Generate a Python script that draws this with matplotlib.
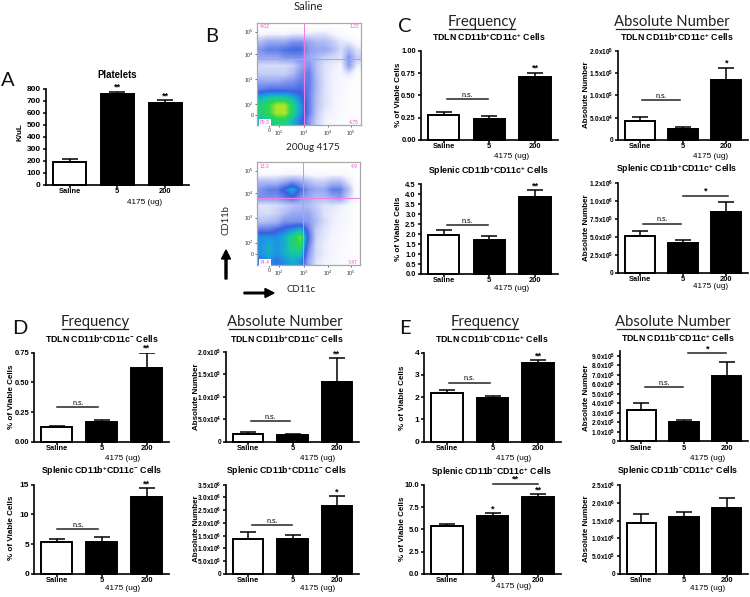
import matplotlib
matplotlib.use("Agg")
import matplotlib.pyplot as plt
from matplotlib.colors import LinearSegmentedColormap
from matplotlib.lines import Line2D
from matplotlib.patches import FancyArrow

W, H = 750, 597
SANS = "Liberation Sans"
HEAD = "Lato"
plt.rcParams.update({
    "font.family": SANS,
    "mathtext.fontset": "custom",
    "mathtext.rm": "Liberation Sans",
    "mathtext.bf": "Liberation Sans:bold",
    "mathtext.it": "Liberation Sans:italic",
})

categories = ["Saline", "5", "200"]
xlabel_text = "4175 (ug)"

# ---- values ----
a_vals = [192, 762, 684]
a_errs = [26, 16, 22]
a_ticks = [0, 100, 200, 300, 400, 500, 600, 700, 800]
a_labels = ["0", "100", "200", "300", "400", "500", "600", "700", "800"]

c1_vals = [0.28, 0.24, 0.70]
c1_errs = [0.03, 0.025, 0.05]
c1_ticks = [0, 0.25, 0.5, 0.75, 1.0]
c1_labels = ["0.00", "0.25", "0.50", "0.75", "1.00"]

c2_vals = [4.2e4, 2.4e4, 1.34e5]
c2_errs = [1.0e4, 0.4e4, 2.8e4]
c2_ticks = [0, 5e4, 1e5, 1.5e5, 2e5]
c2_labels = ["0", "5.0x10$^{\\mathbf{4}}$", "1.0x10$^{\\mathbf{5}}$", "1.5x10$^{\\mathbf{5}}$", "2.0x10$^{\\mathbf{5}}$"]

c3_vals = [1.97, 1.73, 3.85]
c3_errs = [0.23, 0.17, 0.35]
c3_ticks = [0, 0.5, 1, 1.5, 2, 2.5, 3, 3.5, 4, 4.5]
c3_labels = ["0.0", "0.5", "1.0", "1.5", "2.0", "2.5", "3.0", "3.5", "4.0", "4.5"]

c4_vals = [5.1e5, 4.2e5, 8.4e5]
c4_errs = [0.7e5, 0.4e5, 1.5e5]
c4_ticks = [0, 2.5e5, 5e5, 7.5e5, 1e6, 1.25e6]
c4_labels = ["0", "2.5x10$^{\\mathbf{5}}$", "5.0x10$^{\\mathbf{5}}$", "7.5x10$^{\\mathbf{5}}$", "1.0x10$^{\\mathbf{6}}$", "1.2x10$^{\\mathbf{6}}$"]

d1_vals = [0.12, 0.163, 0.62]
d1_errs = [0.01, 0.02, 0.13]
d1_ticks = [0, 0.25, 0.5, 0.75]
d1_labels = ["0.00", "0.25", "0.50", "0.75"]

d2_vals = [1.7e4, 1.55e4, 1.33e5]
d2_errs = [0.4e4, 0.25e4, 0.52e5]
d2_ticks = [0, 5e4, 1e5, 1.5e5, 2e5]
d2_labels = ["0", "5.0x10$^{\\mathbf{4}}$", "1.0x10$^{\\mathbf{5}}$", "1.5x10$^{\\mathbf{5}}$", "2.0x10$^{\\mathbf{5}}$"]

d3_vals = [5.3, 5.43, 12.93]
d3_errs = [0.55, 0.72, 1.5]
d3_ticks = [0, 5, 10, 15]
d3_labels = ["0", "5", "10", "15"]

d4_vals = [1.38e6, 1.36e6, 2.66e6]
d4_errs = [0.25e6, 0.18e6, 0.38e6]
d4_ticks = [0, 5e5, 1e6, 1.5e6, 2e6, 2.5e6, 3e6, 3.5e6]
d4_labels = ["0", "5.0x10$^{\\mathbf{5}}$", "1.0x10$^{\\mathbf{6}}$", "1.5x10$^{\\mathbf{6}}$", "2.0x10$^{\\mathbf{6}}$", "2.5x10$^{\\mathbf{6}}$", "3.0x10$^{\\mathbf{6}}$", "3.5x10$^{\\mathbf{6}}$"]

e1_vals = [2.17, 1.95, 3.52]
e1_errs = [0.14, 0.10, 0.13]
e1_ticks = [0, 1, 2, 3, 4]
e1_labels = ["0", "1", "2", "3", "4"]

e2_vals = [3.3e5, 2.0e5, 6.9e5]
e2_errs = [0.7e5, 0.25e5, 1.45e5]
e2_ticks = [0, 1e5, 2e5, 3e5, 4e5, 5e5, 6e5, 7e5, 8e5, 9e5]
e2_labels = ["0"] + ["%d.0x10$^{\\mathbf{5}}$" % i for i in range(1, 10)]

e3_vals = [5.37, 6.45, 8.65]
e3_errs = [0.26, 0.35, 0.30]
e3_ticks = [0, 2.5, 5, 7.5, 10]
e3_labels = ["0.0", "2.5", "5.0", "7.5", "10.0"]

e4_vals = [1.43e6, 1.59e6, 1.86e6]
e4_errs = [0.25e6, 0.16e6, 0.27e6]
e4_ticks = [0, 5e5, 1e6, 1.5e6, 2e6, 2.5e6]
e4_labels = ["0", "5.0x10$^{\\mathbf{5}}$", "1.0x10$^{\\mathbf{6}}$", "1.5x10$^{\\mathbf{6}}$", "2.0x10$^{\\mathbf{6}}$", "2.5x10$^{\\mathbf{6}}$"]

# flow cytometry density (0 = none, 10 = densest), top row first
saline_density = [
    [0.0, 0.0, 0.0, 0.0, 0.0, 0.0, 0.0, 0.1, 0.1, 0.0, 0.0, 0.0, 0.0],
    [0.5, 0.6, 0.6, 0.6, 0.8, 0.8, 0.8, 1.0, 1.0, 0.6, 0.3, 0.1, 0.0],
    [2.0, 2.5, 2.5, 2.5, 3.0, 3.0, 2.5, 2.0, 2.0, 1.5, 1.0, 0.8, 0.3],
    [3.0, 3.5, 3.5, 3.8, 4.0, 4.0, 2.8, 2.5, 2.5, 2.0, 1.2, 2.0, 1.0],
    [2.5, 2.5, 2.5, 3.0, 3.0, 3.0, 2.5, 2.0, 1.5, 1.2, 1.0, 3.0, 1.5],
    [1.2, 1.2, 1.2, 1.2, 1.5, 2.5, 3.0, 1.8, 1.0, 0.8, 0.6, 2.8, 0.8],
    [1.5, 1.5, 1.5, 1.5, 2.0, 3.0, 3.5, 1.8, 1.0, 0.7, 0.6, 1.0, 0.2],
    [2.5, 2.5, 2.5, 2.8, 3.0, 3.5, 3.5, 2.0, 1.0, 0.7, 0.5, 0.3, 0.1],
    [3.5, 3.8, 3.8, 3.8, 3.8, 4.0, 3.5, 2.0, 1.0, 0.7, 0.5, 0.2, 0.1],
    [5.5, 6.0, 6.0, 6.0, 5.5, 4.5, 3.5, 1.8, 1.0, 0.7, 0.4, 0.2, 0.1],
    [6.5, 7.0, 8.0, 8.0, 6.5, 5.0, 3.5, 1.8, 1.0, 0.7, 0.4, 0.2, 0.1],
    [6.5, 7.0, 8.0, 8.0, 6.5, 5.0, 3.5, 1.6, 0.8, 0.6, 0.3, 0.2, 0.1],
    [5.5, 6.0, 6.5, 6.5, 5.5, 4.5, 3.0, 1.4, 0.7, 0.5, 0.3, 0.2, 0.1],
]
treated_density = [
    [0.0, 0.0, 0.0, 0.0, 0.0, 0.0, 0.0, 0.0, 0.0, 0.0, 0.0, 0.0, 0.0],
    [0.3, 0.3, 0.4, 0.5, 0.6, 0.6, 0.4, 0.3, 0.3, 0.4, 0.4, 0.2, 0.0],
    [2.0, 2.0, 2.0, 2.5, 3.0, 2.5, 2.0, 1.5, 1.5, 2.0, 2.0, 1.0, 0.2],
    [3.0, 3.5, 3.5, 4.5, 5.5, 4.0, 3.0, 2.5, 2.5, 3.5, 3.5, 2.0, 0.3],
    [3.0, 3.0, 3.0, 3.5, 4.0, 3.0, 2.5, 2.0, 2.0, 2.5, 2.8, 1.5, 0.2],
    [1.0, 1.0, 1.2, 1.5, 1.8, 2.0, 2.0, 1.5, 1.0, 1.0, 0.8, 0.5, 0.1],
    [1.2, 1.2, 1.5, 2.0, 2.5, 2.5, 2.5, 1.8, 1.0, 0.8, 0.6, 0.4, 0.1],
    [1.8, 2.0, 2.2, 3.0, 3.0, 3.0, 2.8, 2.0, 1.2, 0.8, 0.6, 0.4, 0.1],
    [3.5, 3.5, 4.0, 4.5, 5.0, 5.5, 3.5, 1.5, 1.0, 0.7, 0.5, 0.3, 0.1],
    [5.0, 5.0, 5.0, 5.5, 6.5, 7.5, 4.0, 1.4, 0.9, 0.6, 0.4, 0.2, 0.1],
    [5.0, 5.5, 5.0, 5.5, 6.5, 7.0, 3.5, 1.2, 0.8, 0.6, 0.4, 0.2, 0.1],
    [5.0, 5.5, 5.0, 5.5, 6.0, 6.0, 3.0, 1.2, 0.8, 0.6, 0.3, 0.2, 0.1],
    [4.5, 5.0, 4.5, 5.0, 5.5, 5.0, 2.5, 1.0, 0.7, 0.5, 0.3, 0.2, 0.1],
]
flow_tick_labels = ["0", "10$^{2}$", "10$^{3}$", "10$^{4}$", "10$^{5}$"]
saline_pcts = ["4.02", "1.22", "4.75", "89.3"]
treated_pcts = ["13.3", "4.9", "7.47", "74.4"]

fig = plt.figure(figsize=(W / 100, H / 100), dpi=100)
fig.patch.set_facecolor("white")


def ftext(x, y, s, **kw):
    kw.setdefault("ha", "center")
    kw.setdefault("va", "center")
    return fig.text(x / W, 1 - y / H, s, **kw)


def add_px_axes(l, r, t, b):
    return fig.add_axes([l / W, 1 - b / H, (r - l) / W, (b - t) / H])


def bar_panel(box, vals, errs, ticks, labels, ymax, title, title_xy, ylabel, ylabel_xy, xlabel_xy,
              stars=("", "", ""), brackets=(), tl_size=5.4, title_size=6.35):
    l, r, t, b = box
    ax = add_px_axes(l, r, t, b)
    ax.set_xlim(-0.5, 2.5)
    ax.set_ylim(0, ymax)
    ax.patch.set_alpha(0)
    x = range(3)
    ax.bar(x, vals, width=0.69, color=["white", "black", "black"], edgecolor="black",
           linewidth=1.4, yerr=[[0, 0, 0], errs], capsize=6,
           error_kw=dict(ecolor="black", elinewidth=1.1, capthick=1.1), clip_on=False)
    for s in ("top", "right"):
        ax.spines[s].set_visible(False)
    for s in ("left", "bottom"):
        ax.spines[s].set_linewidth(1.2)
    ax.set_xticks(list(x))
    ax.set_xticklabels(categories, fontsize=5.4, fontweight="bold")
    ax.set_yticks(ticks)
    ax.set_yticklabels(labels, fontsize=tl_size, fontweight="bold")
    ax.tick_params(axis="y", length=2.5, width=1.1, pad=1)
    ax.tick_params(axis="x", length=2, width=1.1, pad=0.5)
    for i, st in enumerate(stars):
        if st:
            ax.annotate(st, (i, vals[i] + errs[i]), xytext=(0, 0), textcoords="offset points",
                        ha="center", va="bottom", fontsize=6.5, fontweight="bold", annotation_clip=False)
    for lab, x0, x1, yv in brackets:
        ax.add_line(Line2D([x0, x1], [yv, yv], color="#222222", lw=1.1, clip_on=False))
        ax.annotate(lab, ((x0 + x1) / 2, yv), xytext=(0, 0.2), textcoords="offset points",
                    ha="center", va="bottom", fontsize=5.2 if lab == "n.s." else 6.5,
                    annotation_clip=False, fontweight="normal" if lab == "n.s." else "bold")
    ftext(title_xy[0], title_xy[1], title, fontsize=title_size, fontweight="bold")
    ftext(ylabel_xy[0], ylabel_xy[1], ylabel, fontsize=5.8, fontweight="bold", rotation=90)
    ftext(xlabel_xy[0], xlabel_xy[1], xlabel_text, fontsize=5.9)
    return ax


POS = "$^{\\mathbf{+}}$"
NEG = "$^{\\mathbf{-}}$"
VIA = "% of Viable Cells"
ABN = "Absolute Number"
cpp = "CD11b" + POS + "CD11c" + POS + " Cells"
cpn = "CD11b" + POS + "CD11c" + NEG + " Cells"
cnp = "CD11b" + NEG + "CD11c" + POS + " Cells"
SCI = 4.7

# A
bar_panel((45.7, 189, 89, 184.7), a_vals, a_errs, a_ticks, a_labels, 800, "Platelets", (117, 75),
          "K/uL", (20, 132), (145, 202), stars=("", "**", "**"), tl_size=6, title_size=6.9)
# C
bar_panel((420.7, 558, 50.7, 140), c1_vals, c1_errs, c1_ticks, c1_labels, 1.0, "TDLN " + cpp, (489, 37),
          VIA, (399, 95), (512, 156), stars=("", "", "**"), brackets=[("n.s.", 0.07, 0.98, 0.46)])
bar_panel((618.3, 748, 50.7, 140), c2_vals, c2_errs, c2_ticks, c2_labels, 2e5, "TDLN " + cpp, (677, 37),
          ABN, (587, 95), (711, 156), stars=("", "", "*"), brackets=[("n.s.", 0.04, 0.93, 0.895e5)], tl_size=SCI)
bar_panel((420.7, 558, 184.3, 274), c3_vals, c3_errs, c3_ticks, c3_labels, 4.5, "Splenic " + cpp, (489, 171),
          VIA, (399, 229), (512, 288), stars=("", "", "**"), brackets=[("n.s.", 0.07, 0.98, 2.44)])
bar_panel((618.3, 748, 183, 272.7), c4_vals, c4_errs, c4_ticks, c4_labels, 1.25e6, "Splenic " + cpp, (677, 169),
          ABN, (587, 228), (711, 287),
          brackets=[("n.s.", 0.07, 0.96, 6.85e5), ("*", 0.99, 2.03, 1.07e6)], tl_size=SCI)
# D
bar_panel((34, 169, 352.7, 441.7), d1_vals, d1_errs, d1_ticks, d1_labels, 0.75, "TDLN " + cpn, (102, 339),
          VIA, (12, 397), (123, 458), stars=("", "", "**"), brackets=[("n.s.", 0.02, 0.93, 0.289)])
bar_panel((226, 359, 351.7, 441.7), d2_vals, d2_errs, d2_ticks, d2_labels, 2e5, "TDLN " + cpn, (287, 339),
          ABN, (197, 397), (318, 458), stars=("", "", "**"), brackets=[("n.s.", 0.07, 0.95, 4.5e4)], tl_size=SCI)
bar_panel((34, 169, 484.7, 574), d3_vals, d3_errs, d3_ticks, d3_labels, 15, "Splenic " + cpn, (102, 471),
          VIA, (12, 528), (123, 589), stars=("", "", "**"), brackets=[("n.s.", 0.02, 0.93, 7.55)], tl_size=6)
bar_panel((226, 359, 484.7, 574), d4_vals, d4_errs, d4_ticks, d4_labels, 3.5e6, "Splenic " + cpn, (287, 471),
          ABN, (197, 529), (318, 589), stars=("", "", "*"), brackets=[("n.s.", 0.09, 0.98, 1.92e6)], tl_size=SCI)
# E
bar_panel((424, 561, 352.7, 441.7), e1_vals, e1_errs, e1_ticks, e1_labels, 4, "TDLN " + cnp, (492, 339),
          VIA, (402, 398), (514, 458), stars=("", "", "**"), brackets=[("n.s.", 0.05, 0.95, 2.65)], tl_size=6)
bar_panel((620, 748, 351, 441.3), e2_vals, e2_errs, e2_ticks, e2_labels, 9.5e5, "TDLN " + cnp, (678, 338),
          ABN, (587, 398), (708, 458),
          brackets=[("n.s.", 0.09, 0.98, 5.7e5), ("*", 1.1, 1.99, 9.25e5)], tl_size=SCI)
bar_panel((424, 561, 484.7, 574), e3_vals, e3_errs, e3_ticks, e3_labels, 10, "Splenic " + cnp, (492, 471.7),
          VIA, (402, 529), (514, 587), stars=("", "*", "**"), brackets=[("**", 1.01, 1.99, 10.1)])
bar_panel((620, 748, 485, 574), e4_vals, e4_errs, e4_ticks, e4_labels, 2.5e6, "Splenic " + cnp, (678, 471),
          ABN, (587, 529), (708, 588), tl_size=SCI)

# section headers
for x, y, s in [(482, 22, "Frequency"), (672, 22, "Absolute Number"),
                (95, 322, "Frequency"), (285, 322, "Absolute Number"),
                (485, 322, "Frequency"), (673, 322, "Absolute Number")]:
    t = ftext(x, y, s, fontsize=10.7, family=HEAD, color="#222222")
    half = 33 if s == "Frequency" else 56
    fig.add_artist(Line2D([(x - half) / W, (x + half) / W], [1 - (y + 7) / H] * 2, color="#222222", lw=0.9))

# panel letters
for x, y, s in [(7.5, 80, "A"), (212, 37, "B"), (405, 26, "C"), (20, 329, "D"), (405, 329, "E")]:
    ftext(x, y, s, fontsize=14.5, family=HEAD, color="#111111")

# flow plots
flow_cmap = LinearSegmentedColormap.from_list("flow", [
    (0.0, "#ffffff"), (0.06, "#f4f5fe"), (0.12, "#d4daf9"), (0.25, "#98a8f2"), (0.42, "#3a60e2"),
    (0.52, "#1a9fe0"), (0.60, "#18c8a0"), (0.70, "#2bd850"), (0.82, "#c8e820"),
    (0.90, "#f0a020"), (1.0, "#e84020")])


def flow(box, density, pcts, vx, hy, yt):
    l, r, t, b = box
    ax = add_px_axes(l, r, t, b)
    ax.imshow(density, cmap=flow_cmap, vmin=0, vmax=10, aspect="auto", interpolation="bilinear",
              extent=(l, r, b, t))
    ax.set_xlim(l, r)
    ax.set_ylim(b, t)
    for s in ax.spines.values():
        s.set_color("#a8a8a8")
        s.set_linewidth(0.9)
    ax.axvline(vx, color="#f080e0", lw=0.7)
    ax.axhline(hy, color="#f080e0", lw=0.7)
    xt = [269, 279.3, 304, 328.3, 350.7]
    ax.set_xticks(xt)
    ax.set_xticklabels(flow_tick_labels, fontsize=3.8, color="#333333")
    ax.set_yticks(yt)
    ax.set_yticklabels(flow_tick_labels, fontsize=3.8, color="#333333")
    ax.tick_params(length=1.5, width=0.5, pad=1, color="#333333")
    kw = dict(fontsize=3.6, color="#ee55dd", va="center")
    ax.text(l + 3, t + 4, pcts[0], ha="left", **kw)
    ax.text(r - 2, t + 4, pcts[1], ha="right", **kw)
    ax.text(r - 2, b - 2.5, pcts[2], ha="right", **kw)
    ax.text(l + 3, b - 2.5, pcts[3], ha="left",
            bbox=dict(facecolor="white", edgecolor="none", pad=0.6), **kw)


flow((257, 361, 22.7, 125), saline_density, saline_pcts, 304.3, 59, [115, 104, 79, 54.3, 31.7])
flow((257, 360, 162, 265), treated_density, treated_pcts, 303.3, 198, [254, 242.7, 217.7, 193.3, 170.7])

ftext(308, 6, "Saline", fontsize=8, family=HEAD, color="#222222")
ftext(313, 147, "200ug 4175", fontsize=7.2, family=HEAD, color="#222222")
ftext(226, 220, "CD11b", fontsize=6.9, family=HEAD, color="#222222", rotation=90)
ftext(301, 290, "CD11c", fontsize=6.9, family=HEAD, color="#222222")

fig.add_artist(FancyArrow(226 / W, 1 - 279 / H, 0, 29 / H, width=1.6 / H, head_width=9 / W, head_length=9 / H,
                          length_includes_head=True, color="black", transform=fig.transFigure))
fig.add_artist(FancyArrow(244 / W, 1 - 293 / H, 30 / W, 0, width=1.6 / H, head_width=9 / H, head_length=9 / W,
                          length_includes_head=True, color="black", transform=fig.transFigure))

fig.savefig("out.png", dpi=100, facecolor="white")
